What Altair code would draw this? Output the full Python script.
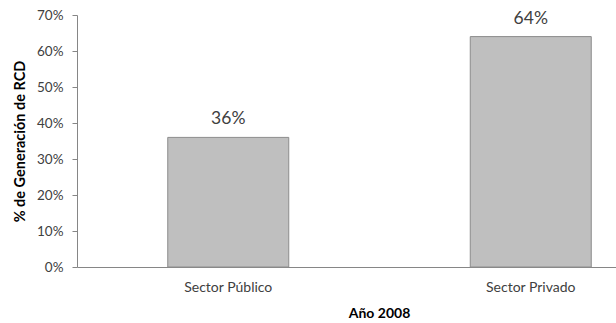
import altair as alt
import pandas as pd

sectores = ["Sector Público", "Sector Privado"]
porcentajes = [0.36, 0.64]
etiquetas = ["36%", "64%"]
marcas_y = [0, 0.1, 0.2, 0.3, 0.4, 0.5, 0.6, 0.7]

df = pd.DataFrame({"sector": sectores, "valor": porcentajes, "etiqueta": etiquetas})

FONT = "Lato"
TXT = "#404040"
GRIS = "#868686"

# The category band runs past the right edge of the drawing, so the
# second bar sits near the border and the baseline runs off the page.
x = alt.X(
    "sector:N",
    sort=sectores,
    scale=alt.Scale(paddingInner=0.6, paddingOuter=0.3, range=[0, 605]),
    axis=alt.Axis(
        title="Año 2008",
        labelAngle=0,
        ticks=False,
        labelPadding=13,
        labelFontSize=14,
        labelFont=FONT,
        labelColor=TXT,
        titleFont=FONT,
        titleFontSize=14,
        titleFontWeight="bold",
        titleColor="#000000",
        titleX=302,
        titleY=46,
        titleBaseline="middle",
        titleAlign="center",
        domainColor=GRIS,
    ),
)

y = alt.Y(
    "valor:Q",
    scale=alt.Scale(domain=[0, 0.7], nice=False),
    axis=alt.Axis(
        title="% de Generación de RCD",
        format=".0%",
        values=marcas_y,
        grid=False,
        tickSize=5,
        tickColor=GRIS,
        domainColor=GRIS,
        labelPadding=9,
        labelFontSize=13.5,
        labelFont=FONT,
        labelColor=TXT,
        labelOverlap=False,
        titleFont=FONT,
        titleFontSize=14.5,
        titleFontWeight="bold",
        titleColor="#000000",
        titleX=-57,
        titleY=126,
        titleAngle=-90,
        titleBaseline="middle",
        titleAlign="center",
    ),
)

base = alt.Chart(df).encode(x=x, y=y)

bars = base.mark_bar(color="#bfbfbf", stroke="#8c8c8c", strokeWidth=1)

labels = base.mark_text(
    baseline="bottom", dy=-9, fontSize=17.5, font=FONT, color=TXT
).encode(text="etiqueta:N")

chart = (
    alt.layer(bars, labels)
    .properties(
        width=539,
        height=252,
        autosize=alt.AutoSizeParams(type="none"),
        padding={"left": 77, "top": 15, "right": 0, "bottom": 56},
    )
    .configure_view(stroke=None)
)

chart.save("out.html", embed_options={"renderer": "svg", "actions": False})
